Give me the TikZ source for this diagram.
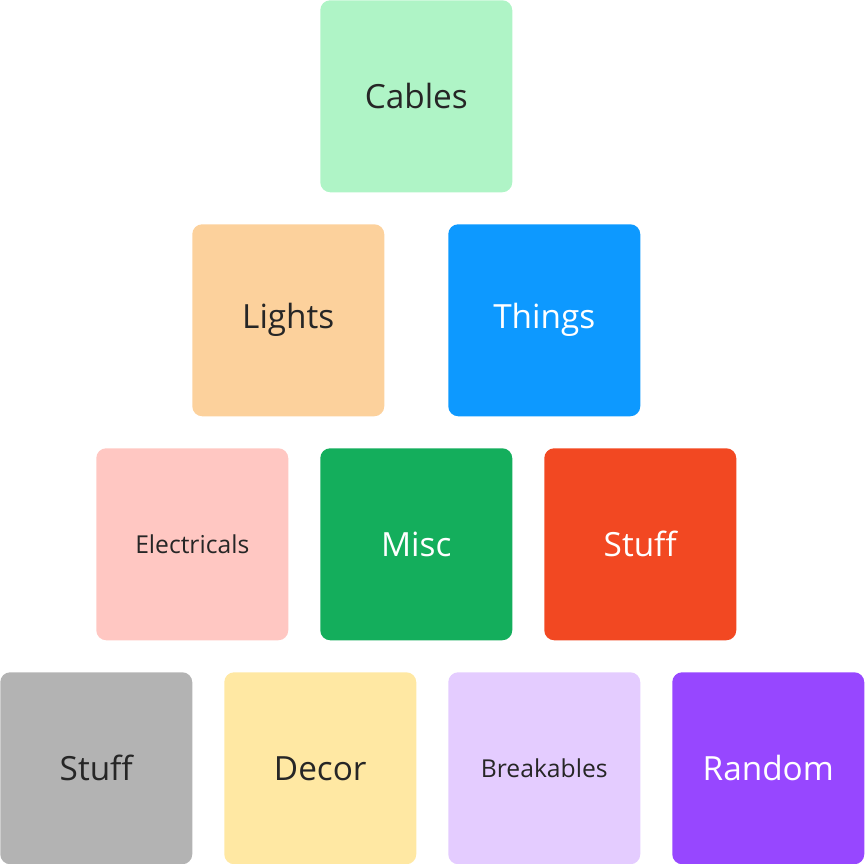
\documentclass[tikz,border=0pt]{standalone}
\usepackage{fontspec}
\setmainfont{Open Sans}
\definecolor{cGreenL}{HTML}{AFF4C6}
\definecolor{cOrangeL}{HTML}{FCD19C}
\definecolor{cBlue}{HTML}{0D99FF}
\definecolor{cRedL}{HTML}{FFC7C2}
\definecolor{cGreen}{HTML}{14AE5C}
\definecolor{cRed}{HTML}{F24822}
\definecolor{cGrey}{HTML}{B3B3B3}
\definecolor{cYellowL}{HTML}{FFE8A3}
\definecolor{cVioletL}{HTML}{E4CCFF}
\definecolor{cViolet}{HTML}{9747FF}
\definecolor{cText}{HTML}{262626}
\tikzset{
  tile/.style={draw=none, rounded corners=7.5pt, minimum width=144pt, minimum height=144pt, inner sep=0pt, anchor=north west, text=cText, font=\fontsize{25pt}{29pt}\selectfont},
  small/.style={font=\fontsize{18.5pt}{22pt}\selectfont},
  light/.style={text=white}
}
\begin{document}
\begin{tikzpicture}[x=0.75pt,y=-0.75pt]
\useasboundingbox (0,0) rectangle (864,864);
\node[tile, fill=cGreenL] (cables) at (320,0) {Cables};
\node[tile, fill=cOrangeL] (lights) at (192,224) {Lights};
\node[tile, fill=cBlue, light] (things) at (448,224) {Things};
\node[tile, fill=cRedL, small] (electricals) at (96,448) {Electricals};
\node[tile, fill=cGreen, light] (misc) at (320,448) {Misc};
\node[tile, fill=cRed, light] (stuffa) at (544,448) {Stuff};
\node[tile, fill=cGrey] (stuffb) at (0,672) {Stuff};
\node[tile, fill=cYellowL] (decor) at (224,672) {Decor};
\node[tile, fill=cVioletL, small] (breakables) at (448,672) {Breakables};
\node[tile, fill=cViolet, light] (random) at (672,672) {Random};
\end{tikzpicture}
\end{document}
